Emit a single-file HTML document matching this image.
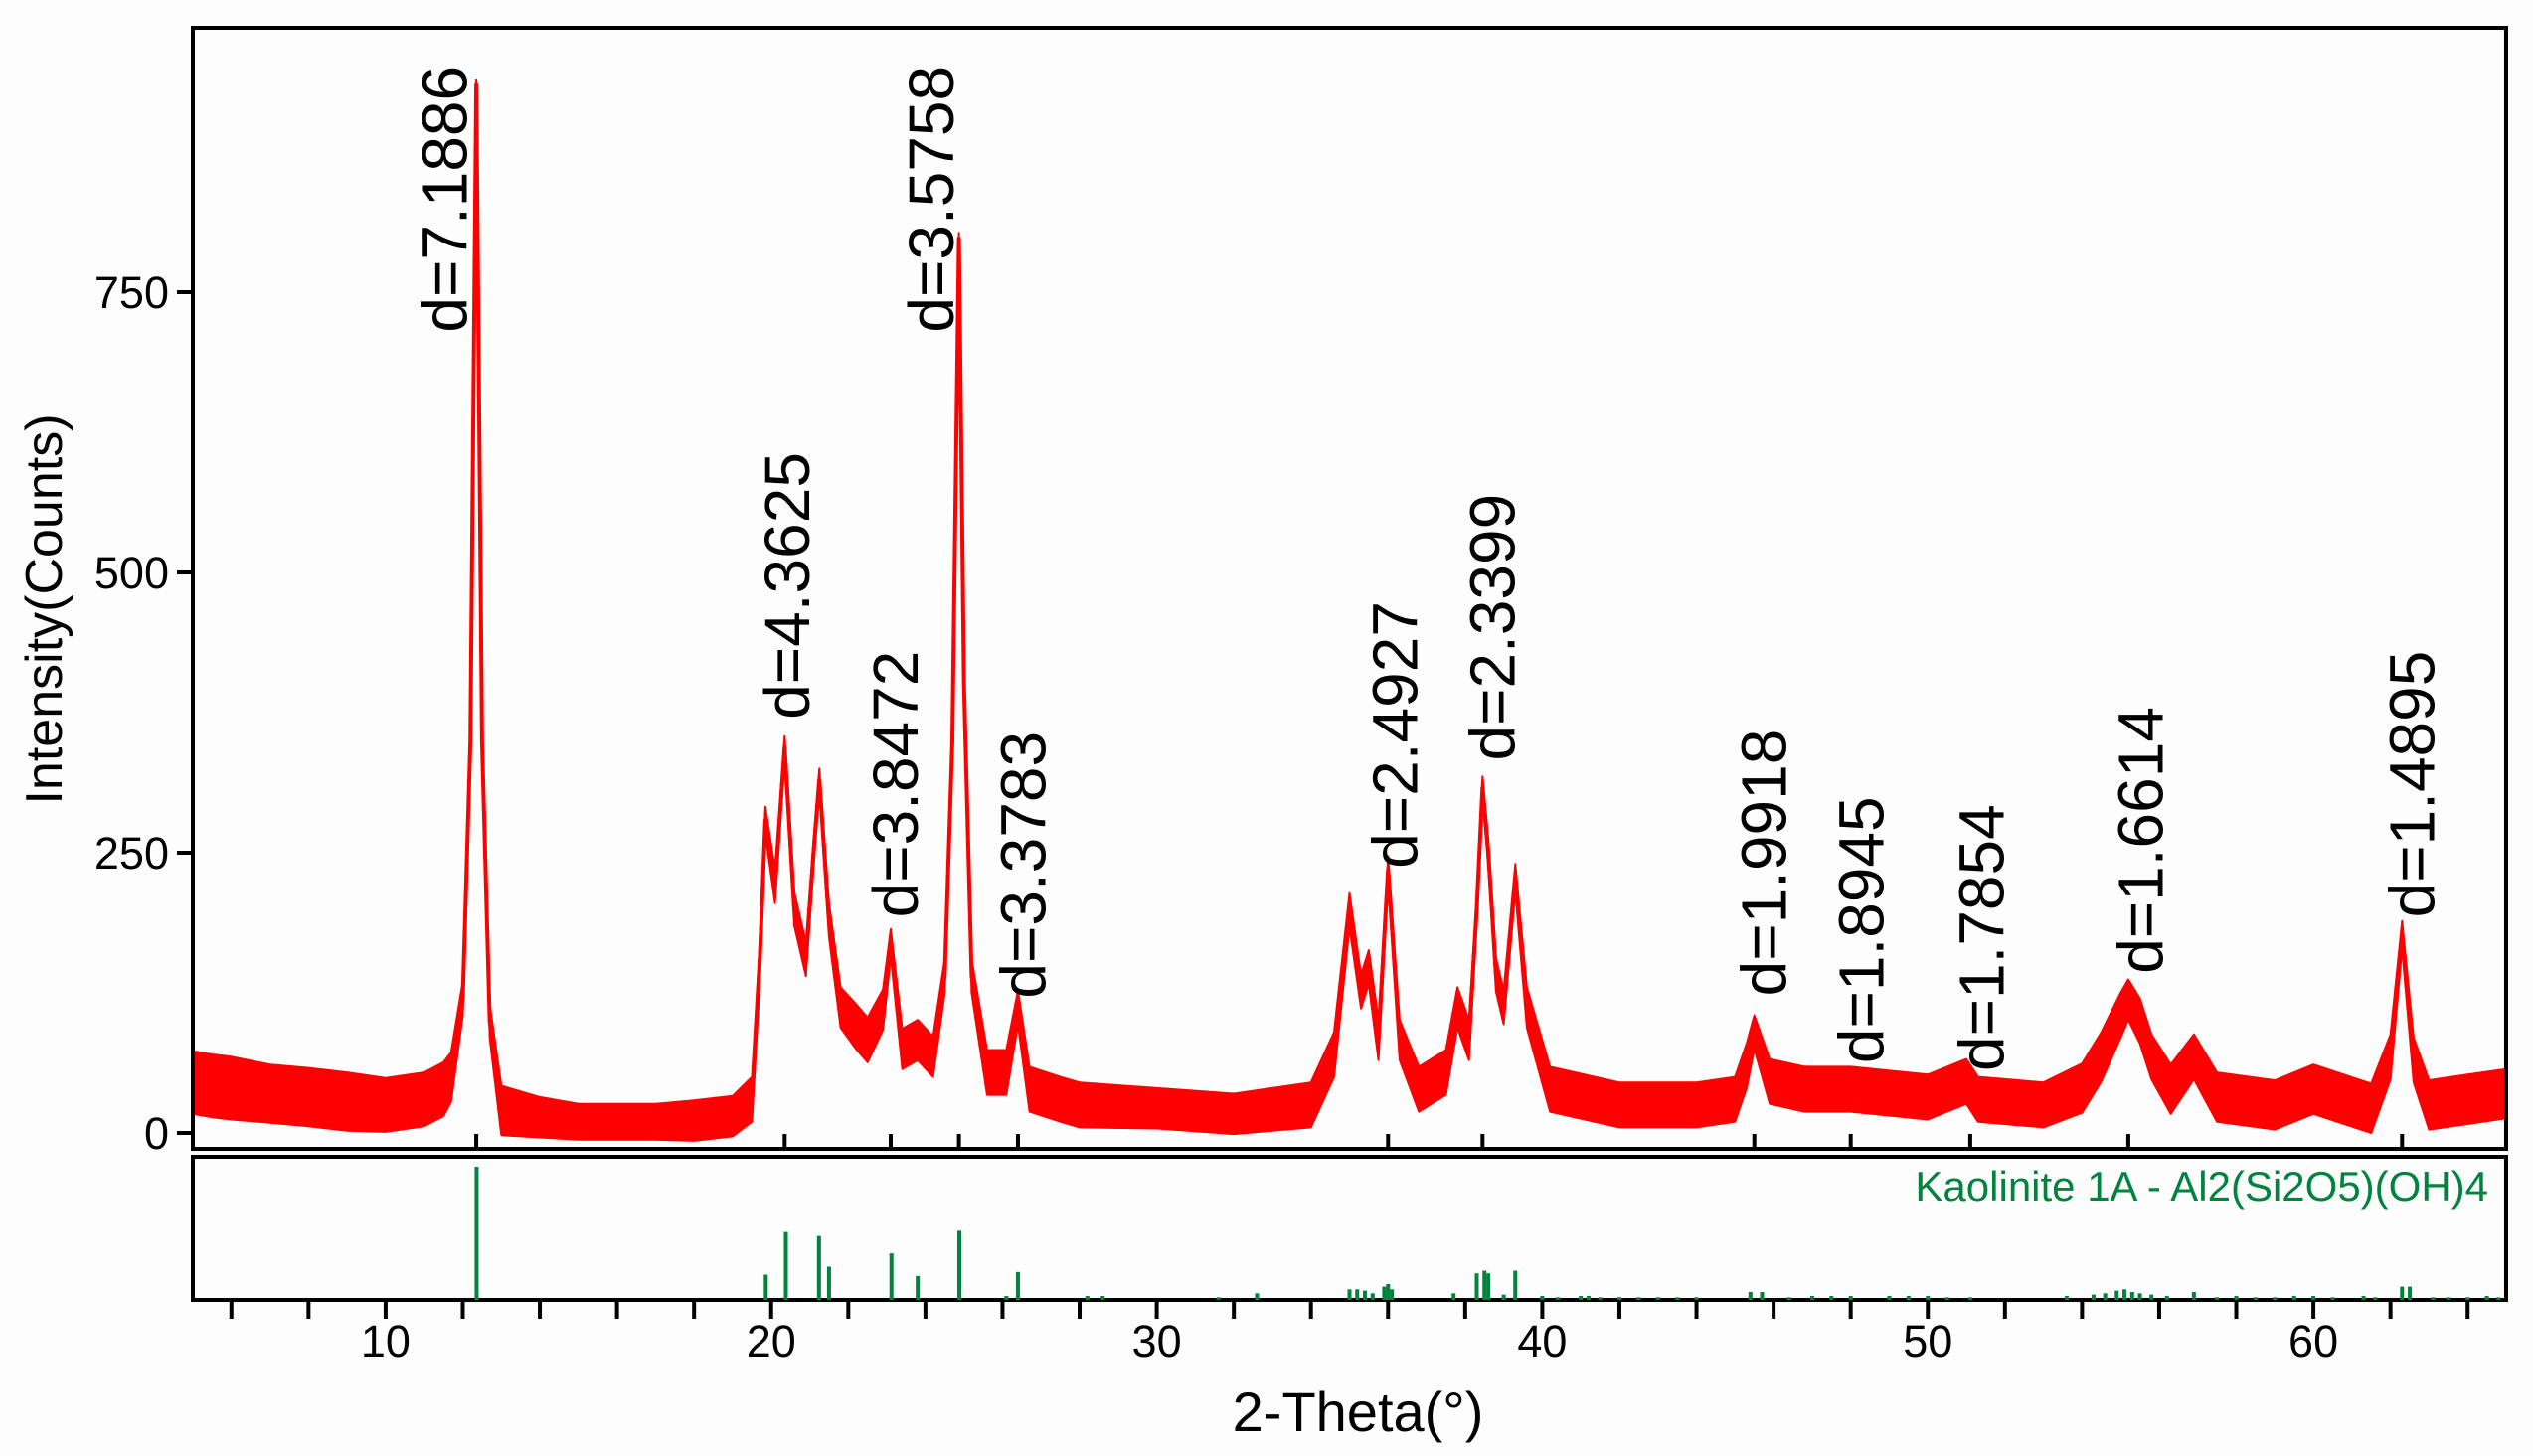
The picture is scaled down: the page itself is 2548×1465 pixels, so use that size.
<!DOCTYPE html>
<html><head><meta charset="utf-8"><style>
html,body{margin:0;padding:0;background:#fff;}
svg{display:block;font-family:"Liberation Sans",Arial,sans-serif;}
</style></head><body>
<svg id="chart" width="2548" height="1465" viewBox="0 0 2548 1465" xmlns="http://www.w3.org/2000/svg">
<rect x="0" y="0" width="2548" height="1465" fill="#fdfdfd"/>
<defs><clipPath id="clipMain"><rect x="194" y="28" width="2327" height="1128"/></clipPath></defs>
<g id="mainG" clip-path="url(#clipMain)"></g>
<g id="axesG"></g>
<g id="stickG"></g>
<g id="labelG"></g>
</svg>
<script>
const theta = [5,5.5,6,7,8,9,10,11,11.5,11.7,12.0,12.2,12.35,12.5,12.7,13.0,14,15,16,17,18,19,19.5,19.7,19.85,20.1,20.35,20.6,20.9,21.1,21.25,21.5,21.8,22.2,22.5,22.9,23.1,23.4,23.8,24.2,24.5,24.7,24.87,25.0,25.2,25.6,26.1,26.4,26.7,27.5,28,30,32,34,34.6,35.0,35.3,35.5,35.75,36.0,36.3,36.8,37.5,37.8,38.1,38.3,38.45,38.6,38.8,39.0,39.3,39.6,40.2,42,44,45,45.3,45.5,45.9,46.8,48,50,51,51.3,53,54,54.5,55.0,55.2,55.5,55.8,56.3,56.9,57.5,59,60,61.5,62.0,62.3,62.6,63,64,65];
const counts = [45,42,40,35,32,28,25,30,39,50,120,350,935,350,100,20,14,10,10,10,11,15,30,150,279,220,344,200,155,250,315,190,112,95,83,110,170,75,83,68,140,350,798,400,140,54,54,112,39,30,25,22,17,25,70,199,126,148,83,235,83,39,54,112,83,200,308,250,141,112,228,112,39,25,25,30,60,90,46,39,39,32,46,30,25,40,68,105,119,100,68,39,68,32,25,39,22,68,177,65,25,30,35];
const noise = [28,28,28,26,26,26,24,24,24,22,15,10,5,10,15,22,18,16,16,16,18,18,20,18,12,15,10,15,15,12,10,15,18,20,20,18,12,18,18,18,15,10,5,10,15,20,20,15,20,20,20,18,18,20,20,15,15,15,18,12,18,20,20,18,18,12,10,12,15,15,12,18,20,20,20,20,20,15,20,20,20,20,20,20,20,22,22,20,18,20,20,22,20,22,22,22,22,20,12,20,22,22,22];
const xTicks = [6,8,10,12,14,16,18,20,22,24,26,28,30,32,34,36,38,40,42,44,46,48,50,52,54,56,58,60,62,64];
const xTickLabels = [10,20,30,40,50,60];
const yTickLabels = [0,250,500,750];
const peakPos = [12.35,20.35,23.1,24.87,26.4,36.0,38.45,45.5,48.0,51.1,55.2,62.3];
const peakText = ["d=7.1886","d=4.3625","d=3.8472","d=3.5758","d=3.3783","d=2.4927","d=2.3399","d=1.9918","d=1.8945","d=1.7854","d=1.6614","d=1.4895"];
const labelTheta = [12.10,20.99,23.8,24.73,27.11,36.75,39.28,46.32,48.84,51.96,56.09,63.13];
const labelBase = [714,369,192,714,120,236,332,122,62,55,142,192];
const stickPos = [12.36,19.86,20.38,21.24,21.5,23.12,23.8,24.88,26.1,26.4,28.2,28.6,31.6,32.6,35.0,35.2,35.4,35.6,35.9,36.0,36.1,37.7,38.3,38.5,38.6,39.0,39.3,40.0,40.4,41.0,41.2,41.5,42.0,42.5,43.0,43.5,44.0,45.4,45.7,46.4,47.0,47.5,48.0,49.0,49.5,50.0,50.5,51.1,53.6,54.3,54.6,54.9,55.1,55.3,55.5,55.8,56.2,56.9,57.5,58.0,58.5,59.0,59.5,60.0,60.5,61.3,61.6,62.3,62.5,63.1,63.5,64.0,64.5,64.8];
const stickRel = [100,19,51,48,25,35,18,52,3,21,3,3,2,5,8,8,7,5,10,12,8,5,20,22,20,4,22,3,2,3,3,2,2,2,2,2,2,6,6,2,3,3,3,3,3,3,2,2,3,4,5,7,8,6,5,4,3,6,2,3,2,2,3,3,2,3,2,10,10,2,2,2,3,2];

const NS="http://www.w3.org/2000/svg";
const X0=194,X1=2521,XMIN=5,XMAX=65;
const Y0PIX=1140,PERCOUNT=282/250;
const SB=1308,STOP=1174;
function xs(t){return X0+(t-XMIN)/(XMAX-XMIN)*(X1-X0);}
function ys(c){return Y0PIX-c*PERCOUNT;}
function ss(r){return SB-r/100*(SB-STOP);}
function mk(tag,attrs,parent){const e=document.createElementNS(NS,tag);for(const k in attrs)e.setAttribute(k,attrs[k]);parent.appendChild(e);return e;}

const mainG=document.getElementById('mainG');
let up=[],lo=[],mid=[];
for(let i=0;i<theta.length;i++){
  up.push(xs(theta[i]).toFixed(1)+','+ys(counts[i]+noise[i]).toFixed(1));
  lo.push(xs(theta[i]).toFixed(1)+','+ys(counts[i]-noise[i]).toFixed(1));
  mid.push(xs(theta[i]).toFixed(1)+','+ys(counts[i]).toFixed(1));
}
const band=mk('polygon',{points:up.concat(lo.reverse()).join(' '),fill:'#ff0000',stroke:'#ff0000','stroke-width':2,'stroke-linejoin':'round'},mainG);


const line=mk('polyline',{points:mid.join(' '),fill:'none',stroke:'#ff0000','stroke-width':4,'stroke-linejoin':'round'},mainG);



const ax=document.getElementById('axesG');
const f1=mk('rect',{x:X0,y:28,width:X1-X0,height:1128,fill:'none',stroke:'#000','stroke-width':4},ax);


const f2=mk('rect',{x:X0,y:1164,width:X1-X0,height:144,fill:'none',stroke:'#000','stroke-width':4},ax);


yTickLabels.forEach(v=>{
  const t=mk('line',{x1:X0-16,x2:X0,y1:ys(v),y2:ys(v),stroke:'#000','stroke-width':4},ax);
  
  
  const l=mk('text',{x:170,y:ys(v)+16,'font-size':45,'text-anchor':'end',fill:'#000'},ax);
  l.textContent=v;
  
  
});
xTicks.forEach(v=>{
  const t=mk('line',{x1:xs(v),x2:xs(v),y1:SB,y2:SB+19,stroke:'#000','stroke-width':4},ax);
  
  
});
xTickLabels.forEach(v=>{
  const l=mk('text',{x:xs(v),y:1365,'font-size':45,'text-anchor':'middle',fill:'#000'},ax);
  l.textContent=v;
  
  
});
peakPos.forEach(v=>{
  const t=mk('line',{x1:xs(v),x2:xs(v),y1:1156,y2:1141,stroke:'#000','stroke-width':4},ax);
  
  
});
const yt=mk('text',{x:0,y:0,'font-size':52,'text-anchor':'middle',fill:'#000',transform:'translate(62,613) rotate(-90)'},ax);
yt.textContent='Intensity(Counts)';


const xt=mk('text',{x:1366,y:1440,'font-size':56,'text-anchor':'middle',fill:'#000'},ax);
xt.textContent='2-Theta(°)';



const sg=document.getElementById('stickG');
stickPos.forEach((p,i)=>{
  const s=mk('line',{x1:xs(p),x2:xs(p),y1:SB,y2:ss(stickRel[i]),stroke:'#00843d','stroke-width':4},sg);
  
  
});
const lg=mk('text',{x:2503,y:1208,'font-size':42,'text-anchor':'end',fill:'#00843d'},sg);
lg.textContent='Kaolinite 1A - Al2(Si2O5)(OH)4';



const lgG=document.getElementById('labelG');
labelTheta.forEach((p,i)=>{
  const x=xs(p), y=ys(labelBase[i]);
  const t=mk('text',{x:0,y:0,'font-size':64,'text-anchor':'start',fill:'#000',transform:'translate('+x.toFixed(1)+','+y.toFixed(1)+') rotate(-90)'},lgG);
  t.textContent=peakText[i];
  
  
});
</script>
</body></html>
